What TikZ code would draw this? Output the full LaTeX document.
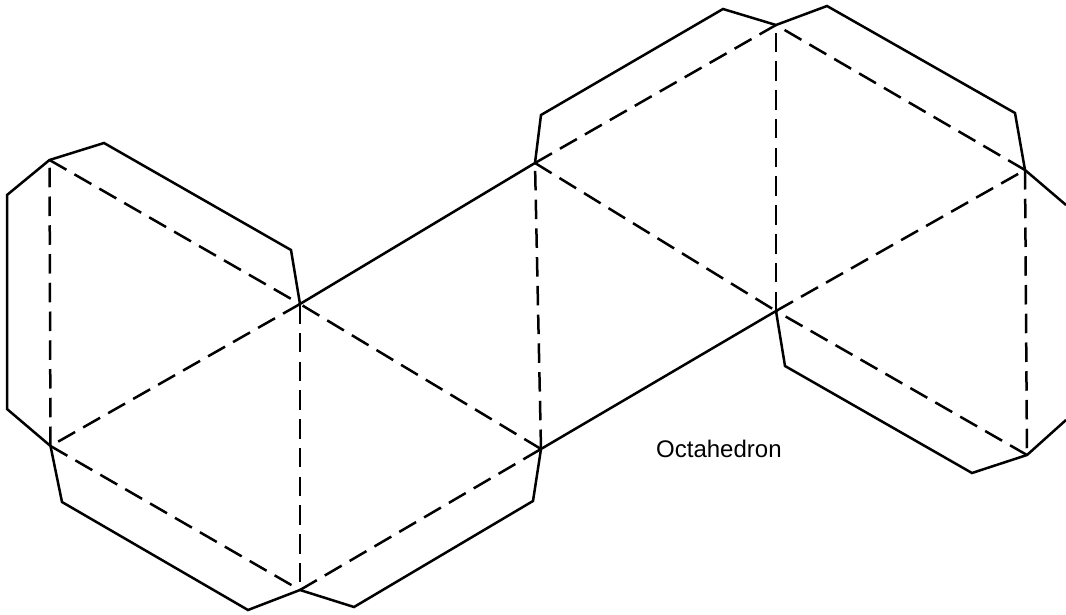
\documentclass[tikz,border=0pt]{standalone}
\usepackage{fontspec}
\setmainfont{Liberation Sans}
\tikzset{
  foldline/.style={line width=2.5pt,dash pattern=on 19.5pt off 9.25pt},
  cutline/.style={line width=2.5pt,line join=miter,line cap=butt},
  caption/.style={font=\fontsize{24}{28}\selectfont,anchor=base west,inner sep=0pt,text=black}
}
\begin{document}
\begin{tikzpicture}[x=1pt,y=-1pt]
\useasboundingbox (0,0) rectangle (1066,615);
\fill[white] (0,0) rectangle (1066,615);
\coordinate (A) at (49.5,160);
\coordinate (B) at (300,304);
\coordinate (C) at (50.5,446);
\coordinate (D) at (300,590);
\coordinate (E) at (541,449);
\coordinate (F) at (535,163);
\coordinate (G) at (776,311);
\coordinate (H) at (776,25);
\coordinate (I) at (1025,170);
\coordinate (J) at (1027,455);
\coordinate (EdgeR1) at (1066,205);
\coordinate (EdgeR2) at (1066,420);
% fold lines
\draw[foldline] (A) -- (B);
\draw[foldline] (C) -- (A);
\draw[foldline] (B) -- (C);
\draw[foldline] (B) -- (D);
\draw[foldline] (C) -- (D);
\draw[foldline] (E) -- (B);
\draw[foldline] (D) -- (E);
\draw[foldline] (E) -- (F);
\draw[foldline] (F) -- (H);
\draw[foldline] (F) -- (G);
\draw[foldline] (G) -- (H);
\draw[foldline] (I) -- (H);
\draw[foldline] (G) -- (I);
\draw[foldline] (J) -- (G);
\draw[foldline] (I) -- (J);
% outline
\draw[cutline] (EdgeR1) -- (I) -- (1015,113) -- (827,6) -- (H) -- (723,9) -- (541,115) -- (F) -- (B) -- (291,250) -- (104,143) -- (A) -- (7,195) -- (7,409) -- (C) -- (62,502) -- (248,610) -- (D) -- (354,607) -- (533,501) -- (E) -- (G) -- (785,366) -- (972,473) -- (J) -- (EdgeR2);
\node[caption] (label) at (656,457) {Octahedron};
\end{tikzpicture}
\end{document}
